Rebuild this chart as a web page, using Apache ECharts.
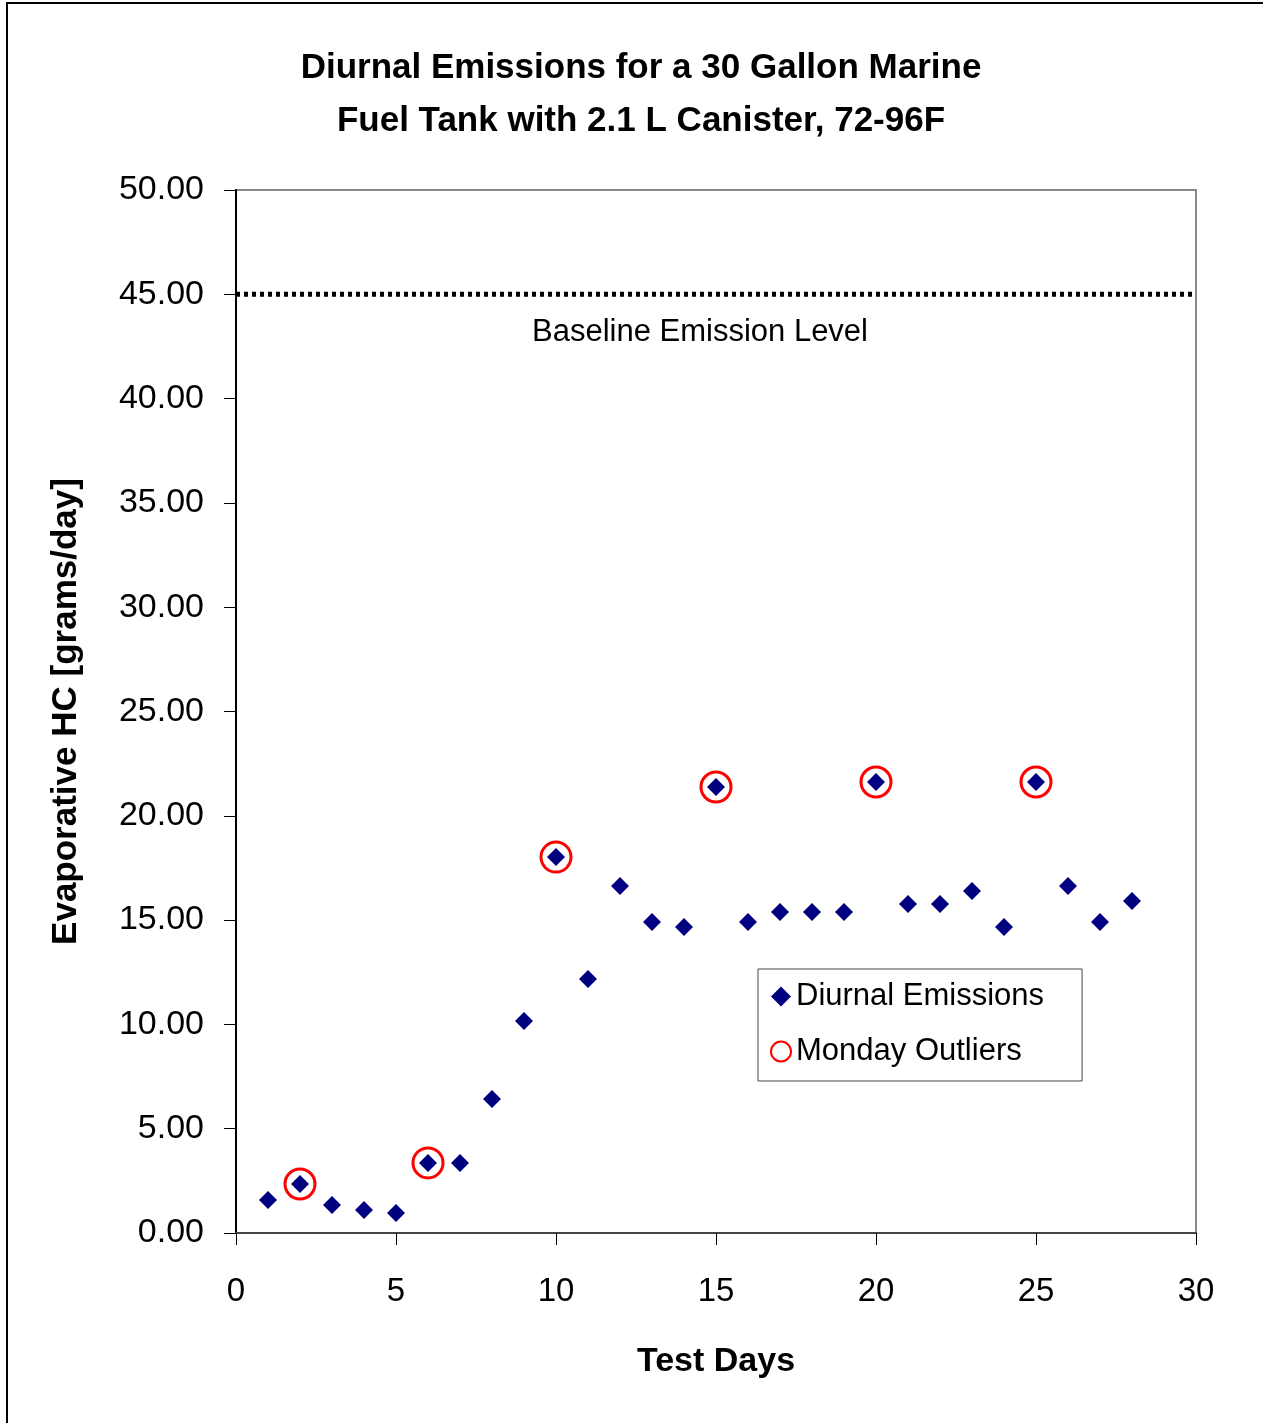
<!DOCTYPE html>
<html><head><meta charset="utf-8">
<script src="https://cdn.jsdelivr.net/npm/echarts@6/dist/echarts.min.js"></script>
<style>html,body{margin:0;padding:0;background:#fff}#c{width:1263px;height:1423px}</style>
</head><body><div id="c"></div>
<script>
const days = [1,2,3,4,5,6,7,8,9,10,11,12,13,14,15,16,17,18,19,20,21,22,23,24,25,26,27,28];
const diurnal = [1.58,2.35,1.34,1.10,0.96,3.36,3.36,6.42,10.16,18.02,12.18,16.63,14.91,14.67,21.38,14.91,15.39,15.39,15.39,21.62,15.77,15.77,16.39,14.67,21.62,16.63,14.91,15.91];
const outlierDays = [2,6,10,15,20,25];
const outlierValues = [2.35,3.36,18.02,21.38,21.62,21.62];
const baselineLevel = 45;
const xTicks = [0,5,10,15,20,25,30];
const yTicks = [0,5,10,15,20,25,30,35,40,45,50];

const chart = echarts.init(document.getElementById('c'));
const ff = '"Liberation Sans", Arial, sans-serif';
chart.setOption({
  animation: false,
  backgroundColor: '#fff',
  title: {
    text: 'Diurnal Emissions for a 30 Gallon Marine\nFuel Tank with 2.1 L Canister, 72-96F',
    left: 636, top: 37, textAlign: 'center',
    textStyle: {fontFamily: ff, fontSize: 35, fontWeight: 'bold', color: '#000', lineHeight: 53}
  },
  grid: {left: 236, top: 190, right: 67, bottom: 190, show: true, borderColor: '#888', borderWidth: 2, backgroundColor: 'transparent'},
  legend: {
    orient: 'vertical', left: 758, top: 969,
    padding: [12, 38, 14, 12], itemGap: 24,
    borderColor: '#444', borderWidth: 1, backgroundColor: '#fff',
    itemWidth: 20, itemHeight: 20,
    textStyle: {fontFamily: ff, fontSize: 31, color: '#000', padding: [0, 0, 0, 0]},
    data: [{name: 'Diurnal Emissions', icon: 'diamond'}, {name: 'Monday Outliers', icon: 'circle'}]
  },
  xAxis: {
    type: 'value', min: 0, max: 30, interval: 5,
    name: 'Test Days', nameLocation: 'middle', nameGap: 112,
    nameTextStyle: {fontFamily: ff, fontSize: 34, fontWeight: 'bold', color: '#000'},
    axisLine: {show: true, lineStyle: {color: '#444', width: 2}},
    axisTick: {show: true, length: 12, lineStyle: {color: '#000', width: 1}},
    axisLabel: {fontFamily: ff, fontSize: 33, color: '#000', margin: 42, formatter: v => xTicks.includes(v) ? String(v) : ''},
    splitLine: {show: false}
  },
  yAxis: {
    type: 'value', min: 0, max: 50, interval: 5,
    name: 'Evaporative HC [grams/day]', nameLocation: 'middle', nameGap: 152, nameRotate: 90,
    nameTextStyle: {fontFamily: ff, fontSize: 35, fontWeight: 'bold', color: '#000'},
    axisLine: {show: true, lineStyle: {color: '#000', width: 2}},
    axisTick: {show: true, length: 12, lineStyle: {color: '#000', width: 1}},
    axisLabel: {fontFamily: ff, fontSize: 34, color: '#000', margin: 32, formatter: v => yTicks.includes(v) ? v.toFixed(2) : ''},
    splitLine: {show: false}
  },
  series: [
    {
      name: 'Baseline', type: 'line', data: [[0, baselineLevel], [30, baselineLevel]],
      symbol: 'none', lineStyle: {color: '#000', width: 5, type: [4, 4]}, silent: true,
      markPoint: {
        symbol: 'rect', symbolSize: 0,
        data: [{coord: [14.5, baselineLevel], label: {show: true, formatter: 'Baseline Emission Level', offset: [0, 38], fontFamily: ff, fontSize: 31, color: '#000'}}]
      }
    },
    {
      name: 'Monday Outliers', type: 'scatter',
      data: outlierDays.map((d, i) => [d, outlierValues[i]]),
      symbol: 'circle', symbolSize: 30,
      itemStyle: {color: 'rgba(255,255,255,0)', borderColor: '#f00', borderWidth: 3, opacity: 1}
    },
    {
      name: 'Diurnal Emissions', type: 'scatter',
      data: days.map((d, i) => [d, diurnal[i]]),
      symbol: 'diamond', symbolSize: 18,
      itemStyle: {color: '#000080', opacity: 1}, z: 5
    }
  ],
  graphic: [
    {type: 'rect', shape: {x: 7, y: 3, width: 1300, height: 1500}, style: {fill: 'none', stroke: '#000', lineWidth: 2}, silent: true}
  ]
});
</script></body></html>
